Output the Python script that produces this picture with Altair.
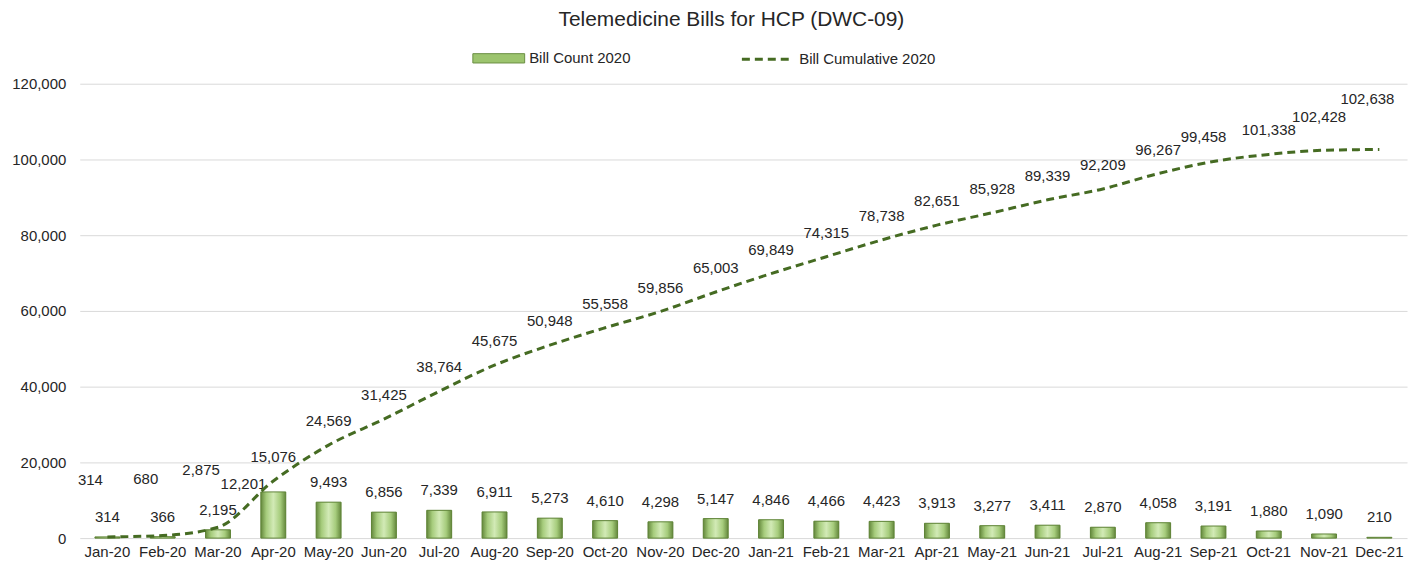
import altair as alt
import pandas as pd

months = ["Jan-20", "Feb-20", "Mar-20", "Apr-20", "May-20", "Jun-20", "Jul-20", "Aug-20",
          "Sep-20", "Oct-20", "Nov-20", "Dec-20", "Jan-21", "Feb-21", "Mar-21", "Apr-21",
          "May-21", "Jun-21", "Jul-21", "Aug-21", "Sep-21", "Oct-21", "Nov-21", "Dec-21"]
bill_count = [314, 366, 2195, 12201, 9493, 6856, 7339, 6911, 5273, 4610, 4298, 5147,
              4846, 4466, 4423, 3913, 3277, 3411, 2870, 4058, 3191, 1880, 1090, 210]
bill_cumulative = [314, 680, 2875, 15076, 24569, 31425, 38764, 45675, 50948, 55558, 59856, 65003,
                   69849, 74315, 78738, 82651, 85928, 89339, 92209, 96267, 99458, 101338, 102428, 102638]

df = pd.DataFrame({
    "month": months,
    "count": bill_count,
    "cum": bill_cumulative,
    "bar_series": ["Bill Count 2020"] * len(months),
    "line_series": ["Bill Cumulative 2020"] * len(months),
})

FONT = "Liberation Sans"
TXT = "#262626"

x = alt.X("month:N", sort=months, title=None,
          scale=alt.Scale(paddingInner=0, paddingOuter=0),
          axis=alt.Axis(labelAngle=0, ticks=False, domain=False, labelPadding=6,
                        labelFontSize=15, labelColor=TXT, labelFont=FONT, grid=False))
y_axis = alt.Axis(values=[0, 20000, 40000, 60000, 80000, 100000, 120000], format=",.0f",
                  ticks=False, domain=False, labelPadding=14, labelFontSize=15,
                  labelColor=TXT, labelFont=FONT, grid=True, gridColor="#d9d9d9")
y_scale = alt.Scale(domain=[0, 120000], nice=False)


def yq(field):
    return alt.Y(field, scale=y_scale, axis=y_axis, title=None)


base = alt.Chart(df)

bars_flat = base.mark_bar(size=25).encode(
    x=x,
    y=yq("count:Q"),
    color=alt.Color("bar_series:N", scale=alt.Scale(range=["#9cc46e"]),
                    legend=alt.Legend(title=None, orient="none", legendX=394, legendY=-52,
                                      symbolType="M-1,-0.18L1,-0.18L1,0.18L-1,0.18Z",
                                      symbolSize=2704, symbolStrokeColor="#6a8f43",
                                      symbolStrokeWidth=1, labelFontSize=15, labelFont=FONT,
                                      labelColor=TXT, labelOffset=4, padding=0)),
)

bars_grad = base.mark_bar(
    size=25,
    stroke="#5f8438", strokeWidth=1,
    fill=alt.Gradient(gradient="linear", x1=0, x2=1, y1=0, y2=0,
                      stops=[alt.GradientStop(color="#64883c", offset=0),
                             alt.GradientStop(color="#a6cc7c", offset=0.22),
                             alt.GradientStop(color="#d2eab6", offset=0.5),
                             alt.GradientStop(color="#a6cc7c", offset=0.78),
                             alt.GradientStop(color="#64883c", offset=1)]),
).encode(x=x, y=yq("count:Q"))

bar_lab_main = base.mark_text(dy=-20, fontSize=15, font=FONT, color=TXT).encode(
    x=x, y=yq("count:Q"), text=alt.Text("count:Q", format=",")
).transform_filter(~alt.FieldOneOfPredicate(field="month", oneOf=["Apr-20"]))

bar_lab_apr = base.mark_text(dy=-8, dx=-30, fontSize=15, font=FONT, color=TXT).encode(
    x=x, y=yq("count:Q"), text=alt.Text("count:Q", format=",")
).transform_filter(alt.FieldOneOfPredicate(field="month", oneOf=["Apr-20"]))

line = base.mark_line(color="#456b22", strokeWidth=3, interpolate="monotone").encode(
    x=x,
    y=yq("cum:Q"),
    strokeDash=alt.StrokeDash("line_series:N", scale=alt.Scale(range=[[8, 5]]),
                              legend=alt.Legend(title=None, orient="none", legendX=663, legendY=-52,
                                                symbolType="stroke", symbolSize=2704,
                                                symbolStrokeWidth=3, symbolStrokeColor="#456b22",
                                                labelFontSize=15, labelFont=FONT, labelColor=TXT,
                                                labelOffset=4, padding=0)),
)

special = {
    "early": (["Jan-20", "Feb-20", "Mar-20"], -17, -57),
    "nov": (["Nov-21"], -5, -33),
    "dec": (["Dec-21"], -12, -51),
    "sep": (["Sep-21"], -10, -25),
}
all_special = sum([v[0] for v in special.values()], [])

line_labels = [base.mark_text(dy=-24, fontSize=15, font=FONT, color=TXT).encode(
    x=x, y=yq("cum:Q"), text=alt.Text("cum:Q", format=",")
).transform_filter(~alt.FieldOneOfPredicate(field="month", oneOf=all_special))]
for mlist, ddx, ddy in special.values():
    line_labels.append(base.mark_text(dx=ddx, dy=ddy, fontSize=15, font=FONT, color=TXT).encode(
        x=x, y=yq("cum:Q"), text=alt.Text("cum:Q", format=",")
    ).transform_filter(alt.FieldOneOfPredicate(field="month", oneOf=mlist)))

chart = alt.layer(bars_flat, bars_grad, bar_lab_main, bar_lab_apr, line, *line_labels).properties(
    width=1332, height=456,
    title=alt.TitleParams("Telemedicine Bills for HCP (DWC-09)", fontSize=21, font=FONT,
                          color=TXT, fontWeight="normal", offset=2, dx=-12),
    autosize=alt.AutoSizeParams(type="none"),
    padding={"left": 72, "top": 75, "right": 5, "bottom": 30},
).resolve_legend(color="independent", strokeDash="independent").configure_view(stroke=None)

chart.save("out.html", embed_options={"renderer": "svg", "actions": False})
